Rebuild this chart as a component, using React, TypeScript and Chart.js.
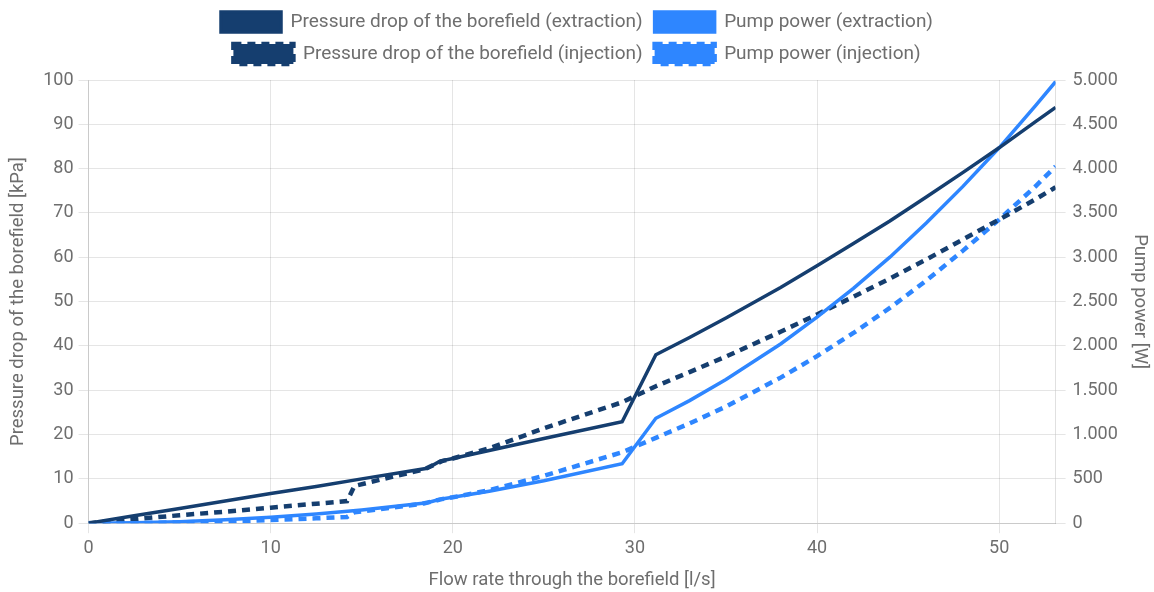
import React, { useEffect, useRef } from "react";
import { Chart, registerables } from "chart.js";

Chart.register(...registerables);

const FAMILY = "Roboto, 'Liberation Sans', Arial, sans-serif";
const TEXT = "#6e6e6e";
const DARK = "#153E6F";
const LIGHT = "#2E86FF";

const seriesLabels = [
  "Pressure drop of the borefield (extraction)",
  "Pump power (extraction)",
  "Pressure drop of the borefield (injection)",
  "Pump power (injection)",
];

const xTitle = "Flow rate through the borefield [l/s]";
const yLeftTitle = "Pressure drop of the borefield [kPa]";
const yRightTitle = "Pump power [W]";

// Flow rate [l/s] samples
const extractionFlow = [0, 2.5, 5, 7.5, 10, 12.5, 15, 18.6, 19.3, 20, 22, 25, 29.3, 31.15, 33, 35, 38, 40, 42, 44, 46, 48, 50, 52, 53.1];
// Pressure drop [kPa], extraction
const pressureExtraction = [0, 1.7, 3.3, 5.0, 6.7, 8.3, 10.0, 12.4, 14.0, 14.6, 16.4, 19.1, 22.9, 38.0, 41.9, 46.3, 53.2, 58.1, 63.1, 68.2, 73.6, 79.1, 84.7, 90.6, 93.8];
// Pump power [W], extraction
const pumpExtraction = [0, 4, 17, 38, 67, 104, 150, 231, 270, 292, 361, 478, 671, 1184, 1383, 1621, 2022, 2324, 2650, 3001, 3386, 3797, 4235, 4711, 4981];

// Flow rate [l/s] samples
const injectionFlow = [0, 2.5, 5, 7.5, 10, 12.5, 14.2, 14.6, 16.8, 18.4, 19.4, 20, 22, 25, 29.3, 31.15, 33, 35, 38, 40, 42, 44, 46, 48, 50, 52, 53.1];
// Pressure drop [kPa], injection
const pressureInjection = [0, 0.9, 1.8, 2.6, 3.5, 4.4, 5.0, 8.4, 10.6, 12.1, 14.0, 14.6, 16.9, 21.4, 27.3, 30.9, 34.1, 37.6, 43.2, 47.1, 51.1, 55.2, 59.5, 64.0, 68.5, 73.1, 75.8];
// Pump power [W], injection
const pumpInjection = [0, 2, 9, 20, 35, 55, 71, 123, 178, 223, 272, 292, 372, 535, 800, 963, 1125, 1316, 1642, 1884, 2146, 2429, 2737, 3072, 3425, 3801, 4025];

const xTicks = [0, 10, 20, 30, 40, 50];
const xMax = 53.1;
const leftMax = 100;
const leftStep = 10;
const rightMax = 5000;
const rightStep = 500;

const fmtThousands = (v: number) =>
  String(Math.round(v)).replace(/\B(?=(\d{3})+(?!\d))/g, ".");

const toPoints = (xs: number[], ys: number[]) => xs.map((x, i) => ({ x, y: ys[i] }));

export default function App() {
  const canvasRef = useRef<HTMLCanvasElement | null>(null);

  useEffect(() => {
    if (!canvasRef.current) return;

    const legendPatch = {
      id: "legendPatch",
      afterInit(chart: any) {
        const lg = chart.legend;
        if (!lg) return;
        const orig = lg.fit;
        lg.fit = function () {
          this.maxWidth = Math.min(this.maxWidth, 1120);
          orig.call(this);
          this.height += 6;
        };
      },
    };

    const dash = [8, 6];
    const chart = new Chart(canvasRef.current, {
      type: "line",
      data: {
        datasets: [
          {
            label: seriesLabels[0],
            data: toPoints(extractionFlow, pressureExtraction),
            borderColor: DARK,
            backgroundColor: DARK,
            borderWidth: 3.5,
            yAxisID: "y",
          },
          {
            label: seriesLabels[1],
            data: toPoints(extractionFlow, pumpExtraction),
            borderColor: LIGHT,
            backgroundColor: LIGHT,
            borderWidth: 3.5,
            yAxisID: "y1",
          },
          {
            label: seriesLabels[2],
            data: toPoints(injectionFlow, pressureInjection),
            borderColor: DARK,
            backgroundColor: DARK,
            borderWidth: 4.5,
            borderDash: dash,
            yAxisID: "y",
          },
          {
            label: seriesLabels[3],
            data: toPoints(injectionFlow, pumpInjection),
            borderColor: LIGHT,
            backgroundColor: LIGHT,
            borderWidth: 4.5,
            borderDash: dash,
            yAxisID: "y1",
          },
        ],
      },
      options: {
        animation: false,
        responsive: true,
        maintainAspectRatio: false,
        layout: { padding: { left: 0, right: 0, top: 0, bottom: 1 } },
        elements: {
          point: { radius: 0, hoverRadius: 0 },
          line: { tension: 0, fill: false },
        },
        plugins: {
          legend: {
            position: "top",
            labels: {
              boxWidth: 60,
              boxHeight: 20,
              padding: 12,
              color: TEXT,
              font: { size: 19, family: FAMILY },
            },
          },
          tooltip: { enabled: false },
        },
        scales: {
          x: {
            type: "linear",
            min: 0,
            max: xMax,
            afterBuildTicks: (scale: any) => {
              scale.ticks = xTicks.map((v) => ({ value: v }));
            },
            ticks: { color: TEXT, font: { size: 18, family: FAMILY }, padding: 4 },
            grid: { color: "rgba(0,0,0,0.1)", tickLength: 10 },
            border: { color: "rgba(0,0,0,0.12)" },
            title: {
              display: true,
              text: xTitle,
              color: TEXT,
              font: { size: 18.5, family: FAMILY },
              padding: { top: 6, bottom: 0 },
            },
          },
          y: {
            position: "left",
            min: 0,
            max: leftMax,
            ticks: { stepSize: leftStep, color: TEXT, font: { size: 18, family: FAMILY }, padding: 5 },
            grid: { color: "rgba(0,0,0,0.1)", tickLength: 10 },
            border: { color: "rgba(0,0,0,0.12)" },
            title: {
              display: true,
              text: yLeftTitle,
              color: TEXT,
              font: { size: 18.5, family: FAMILY },
              padding: { top: 7, bottom: 9 },
            },
          },
          y1: {
            position: "right",
            min: 0,
            max: rightMax,
            ticks: {
              stepSize: rightStep,
              color: TEXT,
              font: { size: 18, family: FAMILY },
              padding: 7,
              callback: (v: any) => fmtThousands(Number(v)),
            },
            grid: { drawOnChartArea: false, color: "rgba(0,0,0,0.1)", tickLength: 10 },
            border: { color: "rgba(0,0,0,0.12)" },
            title: {
              display: true,
              text: yRightTitle,
              color: TEXT,
              font: { size: 18.5, family: FAMILY },
              padding: { top: 3, bottom: 4 },
            },
          },
        },
      },
      plugins: [legendPatch],
    } as any);

    return () => chart.destroy();
  }, []);

  return (
    <div style={{ position: "absolute", left: 0, top: 0, width: 1154, height: 592 }}>
      <canvas ref={canvasRef} />
    </div>
  );
}
